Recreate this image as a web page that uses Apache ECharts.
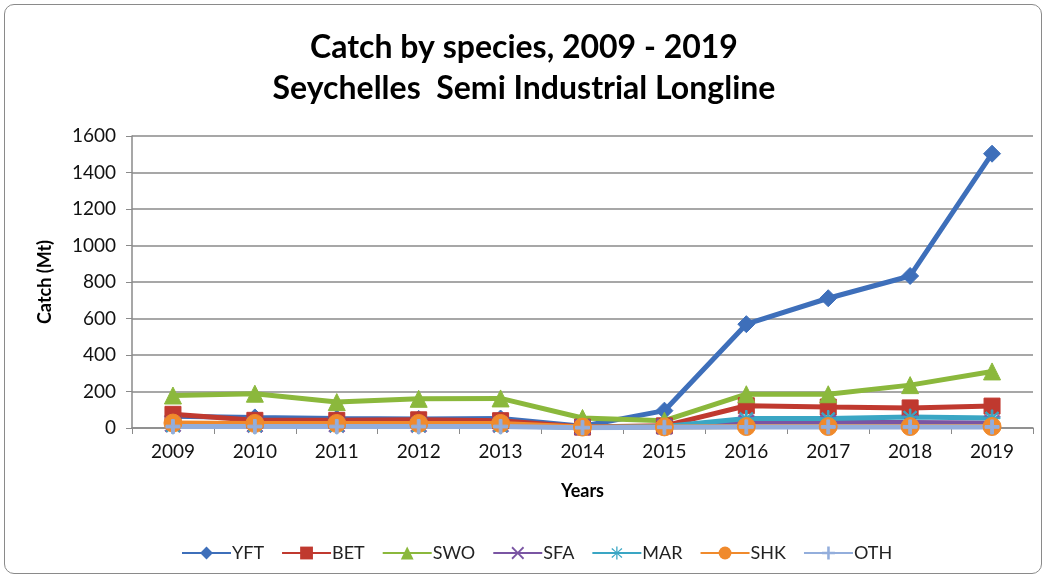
<!DOCTYPE html>
<html>
<head>
<meta charset="utf-8">
<script src="https://cdn.jsdelivr.net/npm/echarts@6/dist/echarts.min.js"></script>
<style>
html,body{margin:0;padding:0;background:#fff;}
#frame{position:absolute;left:4px;top:4px;width:1038px;height:570px;border:1.5px solid #8a8a8a;border-radius:10px;box-sizing:border-box;}
#chart{position:absolute;left:0;top:0;width:1048px;height:580px;}
</style>
</head>
<body>
<div id="frame"></div>
<div id="chart"></div>
<script>
const years = ['2009','2010','2011','2012','2013','2014','2015','2016','2017','2018','2019'];
const YFT = [65, 58, 52, 50, 52, 10, 95, 569, 711, 833, 1503];
const BET = [75, 42, 42, 45, 40, 5, 12, 122, 115, 110, 120];
const SWO = [178, 188, 142, 160, 162, 55, 40, 185, 185, 235, 310];
const SFA = [20, 18, 18, 18, 18, 4, 8, 30, 30, 30, 28];
const MAR = [12, 12, 12, 12, 12, 3, 8, 52, 52, 60, 55];
const SHK = [27, 25, 25, 25, 25, 5, 6, 8, 8, 8, 8];
const OTH = [8, 8, 8, 8, 8, 2, 4, 6, 6, 6, 6];
const yTicks = {min: 0, max: 1600, interval: 200};

const chart = echarts.init(document.getElementById('chart'));
const font = 'Lato, "Open Sans", sans-serif';
function s(name, data, color, symbol, size) {
  return {
    name: name, type: 'line', data: data, symbol: symbol, symbolSize: size,
    showAllSymbol: true,
    lineStyle: {color: color, width: 5},
    itemStyle: {color: color, borderColor: color},
    emphasis: {disabled: true}
  };
}
const plus = 'path://M4,0 L6,0 L6,4 L10,4 L10,6 L6,6 L6,10 L4,10 L4,6 L0,6 L0,4 L4,4 Z';
const cross = 'path://M1,0 L5,4 L9,0 L10,1 L6,5 L10,9 L9,10 L5,6 L1,10 L0,9 L4,5 L0,1 Z';
const star = 'path://M4.5,0 L5.5,0 L5.5,4 L8.6,1.1 L9.3,1.8 L6.2,4.5 L10,4.5 L10,5.5 L6.2,5.5 L9.3,8.2 L8.6,8.9 L5.5,6 L5.5,10 L4.5,10 L4.5,6 L1.4,8.9 L0.7,8.2 L3.8,5.5 L0,5.5 L0,4.5 L3.8,4.5 L0.7,1.8 L1.4,1.1 L4.5,4 Z';
chart.setOption({
  animation: false,
  backgroundColor: 'transparent',
  title: {
    text: 'Catch by species, 2009 - 2019\nSeychelles  Semi Industrial Longline',
    left: 'center', top: 22,
    textStyle: {fontFamily: font, fontWeight: 'bold', fontSize: 32, color: '#000', lineHeight: 41}
  },
  grid: {left: 132, right: 15, top: 136, bottom: 152, containLabel: false},
  legend: {
    top: 539, left: 176, itemWidth: 49, itemHeight: 16, itemGap: 17,
    textStyle: {fontFamily: font, fontSize: 18, color: '#222', padding: [0, 0, 0, -4]},
    data: ['YFT','BET','SWO','SFA','MAR','SHK','OTH']
  },
  xAxis: {
    type: 'category', data: years, boundaryGap: true,
    name: 'Years', nameLocation: 'middle', nameGap: 54,
    nameTextStyle: {fontFamily: font, fontWeight: 'bold', fontSize: 18, color: '#000'},
    axisLine: {lineStyle: {color: '#8a8a8a', width: 1.5}},
    axisTick: {show: true, alignWithLabel: false, length: 6, lineStyle: {color: '#8a8a8a'}},
    axisLabel: {fontFamily: font, fontSize: 19, color: '#111', margin: 14}
  },
  yAxis: {
    type: 'value', min: yTicks.min, max: yTicks.max, interval: yTicks.interval,
    name: 'Catch (Mt)', nameLocation: 'middle', nameGap: 78, nameRotate: 90,
    nameTextStyle: {fontFamily: font, fontWeight: 'bold', fontSize: 18, color: '#000'},
    axisLine: {show: true, lineStyle: {color: '#8a8a8a', width: 1.5}},
    axisTick: {show: true, length: 6, lineStyle: {color: '#8a8a8a'}},
    axisLabel: {fontFamily: font, fontSize: 19, color: '#111', margin: 16, formatter: v => String(v)},
    splitLine: {lineStyle: {color: '#8a8a8a', width: 1.5}}
  },
  series: [
    s('YFT', YFT, '#3e6fba', 'diamond', 17),
    s('BET', BET, '#c0392f', 'rect', 16),
    s('SWO', SWO, '#8bb83c', 'triangle', 17),
    s('SFA', SFA, '#7a55a3', cross, 16),
    s('MAR', MAR, '#3aa6c4', star, 16),
    s('SHK', SHK, '#f08a2c', 'circle', 18),
    s('OTH', OTH, '#93aedc', plus, 14)
  ]
});
</script>
</body>
</html>
